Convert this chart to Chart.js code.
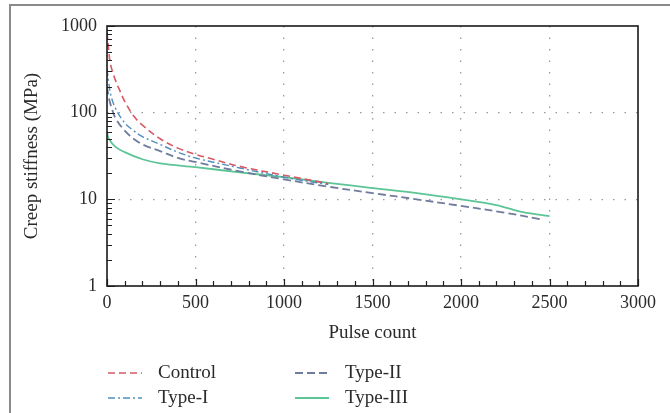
<!DOCTYPE html>
<html>
<head>
<meta charset="utf-8">
<script src="https://cdn.jsdelivr.net/npm/chart.js@4.4.1/dist/chart.umd.min.js"></script>
<style>
  html, body { margin: 0; padding: 0; background: #fff; }
  #wrap { position: relative; width: 670px; height: 413px; overflow: hidden; font-family: "Liberation Serif", "DejaVu Serif", serif; color: #2a2a2a; }
  #frame { position: absolute; left: 9px; top: 4px; width: 700px; height: 450px; border: 2px solid #8a8a8a; box-sizing: border-box; }
  canvas { position: absolute; left: 0; top: 0; }
  .leg { position: absolute; font-size: 19px; line-height: 22px; white-space: nowrap; }
  .sw { position: absolute; }
</style>
</head>
<body>
<div id="wrap">
  <div id="frame"></div>
  <canvas id="c" width="670" height="413"></canvas>
  <div id="legend"></div>
</div>
<script>
// ---- data ----
const seriesNames = ["Control", "Type-I", "Type-II", "Type-III"];
const controlX = [0, 10, 20, 50, 75, 100, 150, 200, 300, 400, 500, 600, 750, 1000, 1250];
const controlY = [850, 520, 360, 230, 175, 135, 92, 72, 50, 39, 33, 29, 24, 19, 15.2];
const type1X = [0, 10, 25, 50, 100, 150, 200, 300, 400, 500, 750, 1000, 1250];
const type1Y = [320, 220, 150, 110, 76, 62, 53, 43, 35, 30, 23, 18, 14.8];
const type2X = [0, 10, 25, 50, 100, 150, 200, 300, 400, 500, 750, 1000, 1250, 1500, 1750, 2000, 2250, 2450];
const type2Y = [200, 150, 115, 85, 62, 50, 43, 36, 30, 27, 21, 17, 14, 11.8, 10, 8.4, 7, 5.9];
const type3X = [0, 10, 50, 100, 200, 300, 500, 750, 1000, 1250, 1500, 1750, 2000, 2200, 2350, 2500];
const type3Y = [60, 50, 40, 35, 29, 26, 23.5, 20.5, 18, 15.5, 13.5, 11.8, 10, 8.6, 7.1, 6.4];
const xTicks = [0, 500, 1000, 1500, 2000, 2500, 3000];
const yTicks = [1, 10, 100, 1000];

function pts(xs, ys) { return xs.map((x, i) => ({ x: x, y: ys[i] })); }

const styles = [
  { color: "#d65a66", dash: [7, 4], width: 1.6 },
  { color: "#4f8fbf", dash: [7, 3, 2, 3], width: 1.4 },
  { color: "#6f7c9c", dash: [8, 4], width: 1.8 },
  { color: "#5cc596", dash: [], width: 1.8 }
];
const allData = [pts(controlX, controlY), pts(type1X, type1Y), pts(type2X, type2Y), pts(type3X, type3Y)];

const FONT = "'Liberation Serif', 'DejaVu Serif', serif";

// inward minor ticks and border
const frameTicks = {
  id: "frameTicks",
  afterDraw(chart) {
    const { ctx, chartArea: a, scales } = chart;
    const xs = scales.x, ys = scales.y;
    ctx.save();
    ctx.setLineDash([]);
    ctx.strokeStyle = "#222";
    ctx.lineWidth = 1.2;
    ctx.beginPath();
    for (let v = 0; v <= 3000; v += 100) {
      const px = Math.round(xs.getPixelForValue(v)) + 0.5;
      const len = (v % 500 === 0) ? 7 : 5;
      ctx.moveTo(px, a.bottom); ctx.lineTo(px, a.bottom - len);
    }
    for (let d = 1; d < 1000; d *= 10) {
      for (let m = 1; m <= 10; m++) {
        const py = Math.round(ys.getPixelForValue(d * m)) + 0.5;
        const len = (m === 1 || m === 10) ? 8 : 5;
        ctx.moveTo(a.left, py); ctx.lineTo(a.left + len, py);
      }
    }
    ctx.stroke();
    ctx.lineWidth = 1.6;
    ctx.strokeStyle = "#1a1a1a";
    ctx.strokeRect(a.left, a.top, a.right - a.left, a.bottom - a.top);
    ctx.restore();
  }
};

new Chart(document.getElementById("c"), {
  type: "line",
  data: {
    datasets: allData.map((d, i) => ({
      label: seriesNames[i],
      data: d,
      borderColor: styles[i].color,
      borderDash: styles[i].dash,
      borderWidth: styles[i].width,
      pointRadius: 0,
      tension: 0.35,
      fill: false
    }))
  },
  options: {
    responsive: false,
    animation: false,
    layout: { padding: { left: 0, top: 26, right: 32, bottom: 67 } },
    plugins: { legend: { display: false }, tooltip: { enabled: false } },
    scales: {
      x: {
        type: "linear", min: 0, max: 3000,
        afterBuildTicks: s => { s.ticks = xTicks.map(v => ({ value: v })); },
        afterFit: s => { s.height = 60; },
        ticks: { font: { family: FONT, size: 18 }, color: "#2a2a2a", padding: 6, maxRotation: 0, callback: v => String(v) },
        grid: {
          color: c => (c.tick && (c.tick.value === 0 || c.tick.value === 3000)) ? "rgba(0,0,0,0)" : "#9a9a9a",
          lineWidth: 1.3, drawTicks: false
        },
        border: { display: false, dash: [1.5, 10] },
        title: { display: true, text: "Pulse count", font: { family: FONT, size: 19 }, color: "#2a2a2a", padding: { top: 0, bottom: 2 } }
      },
      y: {
        type: "logarithmic", min: 1, max: 1000,
        afterBuildTicks: s => { s.ticks = yTicks.map(v => ({ value: v })); },
        afterFit: s => { s.width = 107; },
        ticks: { font: { family: FONT, size: 18 }, color: "#2a2a2a", padding: 10, callback: v => String(v) },
        grid: {
          color: c => (c.tick && (c.tick.value === 1 || c.tick.value === 1000)) ? "rgba(0,0,0,0)" : "#9a9a9a",
          lineWidth: 1.3, drawTicks: false
        },
        border: { display: false, dash: [1.5, 10] },
        title: { display: true, text: "Creep stiffness (MPa)", font: { family: FONT, size: 19 }, color: "#2a2a2a", padding: { top: 21, bottom: 0 } }
      }
    }
  },
  plugins: [frameTicks]
});

// HTML legend
const legPos = [
  { lx: 108, tx: 158, y: 373 },
  { lx: 108, tx: 158, y: 398 },
  { lx: 295, tx: 345, y: 373 },
  { lx: 295, tx: 345, y: 398 }
];
const legend = document.getElementById("legend");
seriesNames.forEach((name, i) => {
  const p = legPos[i], st = styles[i];
  const svg = `<svg class="sw" style="left:${p.lx}px;top:${p.y - 3}px" width="36" height="6"><line x1="0" y1="3" x2="34" y2="3" stroke="${st.color}" stroke-width="${st.width}" stroke-dasharray="${st.dash.join(',')}"/></svg>`;
  legend.insertAdjacentHTML("beforeend", svg + `<div class="leg" style="left:${p.tx}px;top:${p.y - 12}px">${name}</div>`);
});
</script>
</body>
</html>
